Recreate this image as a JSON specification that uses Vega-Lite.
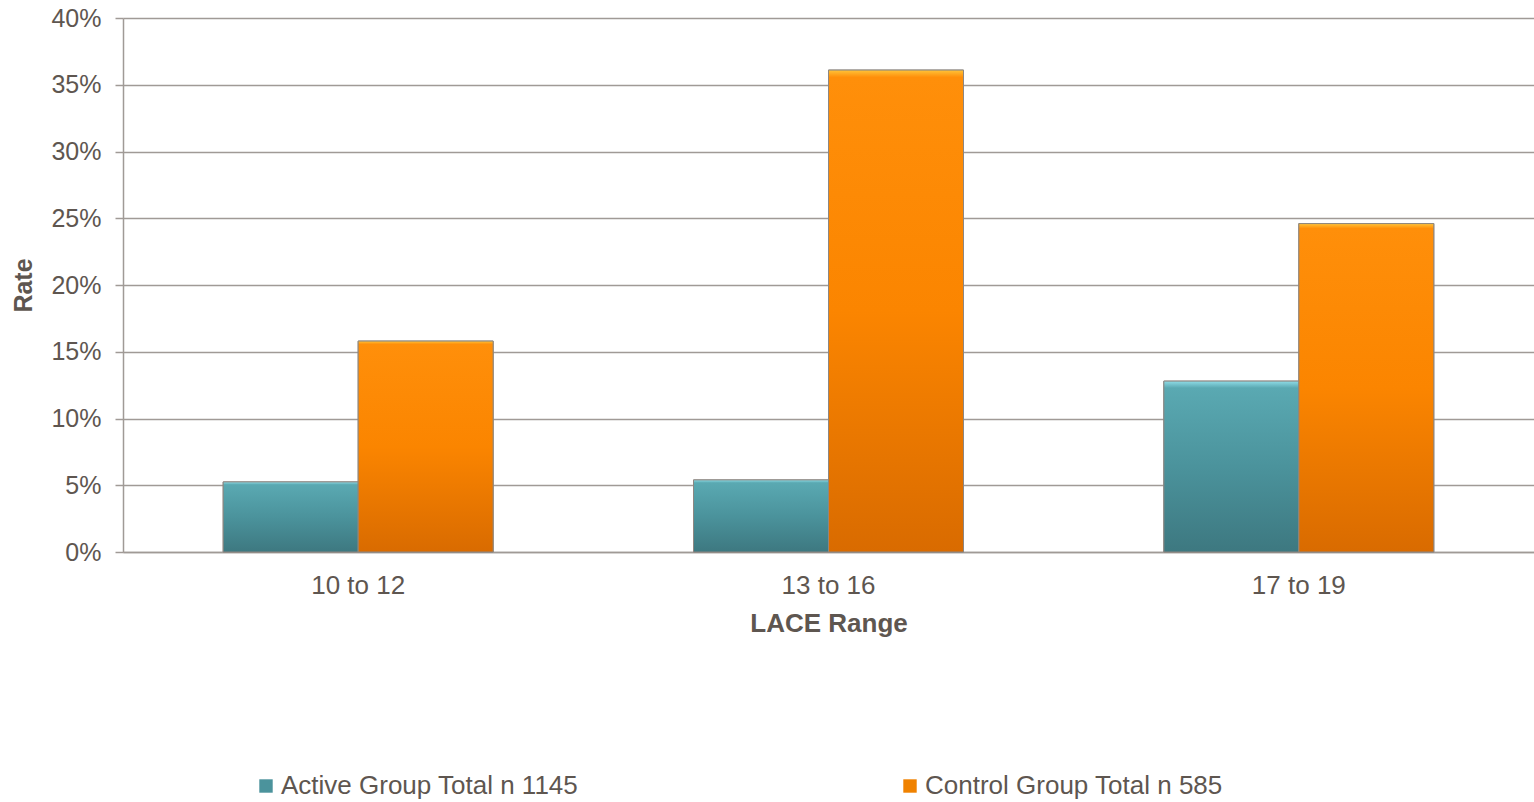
{
  "$schema": "https://vega.github.io/schema/vega-lite/v6.json",
  "autosize": {"type": "none"},
  "width": 1411,
  "height": 534,
  "padding": {"left": 123, "top": 18, "right": 0, "bottom": 250},
  "background": "#ffffff",
  "config": {
    "view": {"stroke": null},
    "font": "Liberation Sans",
    "axis": {
      "labelFont": "Liberation Sans",
      "titleFont": "Liberation Sans",
      "labelColor": "#5e5650",
      "titleColor": "#5e5650",
      "gridColor": "#a09a96",
      "gridWidth": 1.5,
      "domainColor": "#a09a96",
      "domainWidth": 1.5,
      "tickColor": "#a09a96",
      "tickWidth": 1.5
    }
  },
  "data": {
    "values": [
      {"range": "10 to 12", "group": "Active Group Total n 1145", "rate": 0.0525},
      {"range": "10 to 12", "group": "Control Group Total n 585", "rate": 0.158},
      {"range": "13 to 16", "group": "Active Group Total n 1145", "rate": 0.054},
      {"range": "13 to 16", "group": "Control Group Total n 585", "rate": 0.361},
      {"range": "17 to 19", "group": "Active Group Total n 1145", "rate": 0.128},
      {"range": "17 to 19", "group": "Control Group Total n 585", "rate": 0.246}
    ]
  },
  "encoding": {
    "x": {
      "field": "range",
      "type": "nominal",
      "scale": {"paddingInner": 0.426, "paddingOuter": 0.213},
      "axis": {
        "title": "LACE Range",
        "labelAngle": 0,
        "labelFontSize": 26,
        "labelPadding": 20,
        "ticks": false,
        "titleFontSize": 26,
        "titleFontWeight": "bold",
        "titlePadding": 12
      }
    },
    "xOffset": {"field": "group", "type": "nominal", "scale": {"paddingInner": 0}},
    "y": {
      "field": "rate",
      "type": "quantitative",
      "scale": {"domain": [0, 0.4], "nice": false},
      "axis": {
        "title": "Rate",
        "format": ".0%",
        "values": [0, 0.05, 0.1, 0.15, 0.2, 0.25, 0.3, 0.35, 0.4],
        "labelOverlap": false,
        "labelFontSize": 25,
        "labelPadding": 14,
        "tickSize": 8,
        "titleFontSize": 25,
        "titleFontWeight": "bold",
        "titlePadding": 14
      }
    }
  },
  "layer": [
    {
      "mark": {"type": "bar", "stroke": "#8d8782", "strokeWidth": 1},
      "encoding": {
        "color": {
          "field": "group",
          "type": "nominal",
          "scale": {"range": ["#4b939c", "#f08200"]},
          "legend": {
            "title": null,
            "orient": "none",
            "legendX": 130,
            "legendY": 755,
            "direction": "horizontal",
            "columns": 2,
            "columnPadding": 318,
            "symbolType": "square",
            "symbolSize": 180,
            "symbolStrokeWidth": 0,
            "labelFontSize": 26,
            "labelColor": "#5e5650",
            "labelFont": "Liberation Sans",
            "labelOffset": 2,
            "labelLimit": 600
          }
        }
      }
    },
    {
      "mark": {"type": "bar", "stroke": "#8d8782", "strokeWidth": 1},
      "encoding": {
        "fill": {
          "condition": {
            "test": "datum.group === 'Active Group Total n 1145'",
            "value": {
              "gradient": "linear",
              "x1": 0, "y1": 0, "x2": 0, "y2": 1,
              "stops": [
                {"offset": 0, "color": "#8fdce6"},
                {"offset": 0.04, "color": "#5aa9b2"},
                {"offset": 0.5, "color": "#4b939c"},
                {"offset": 1, "color": "#3d7880"}
              ]
            }
          },
          "value": {
            "gradient": "linear",
            "x1": 0, "y1": 0, "x2": 0, "y2": 1,
            "stops": [
              {"offset": 0, "color": "#ffc43a"},
              {"offset": 0.015, "color": "#ff8f0a"},
              {"offset": 0.5, "color": "#fb8500"},
              {"offset": 1, "color": "#d96b00"}
            ]
          }
        }
      }
    }
  ]
}
